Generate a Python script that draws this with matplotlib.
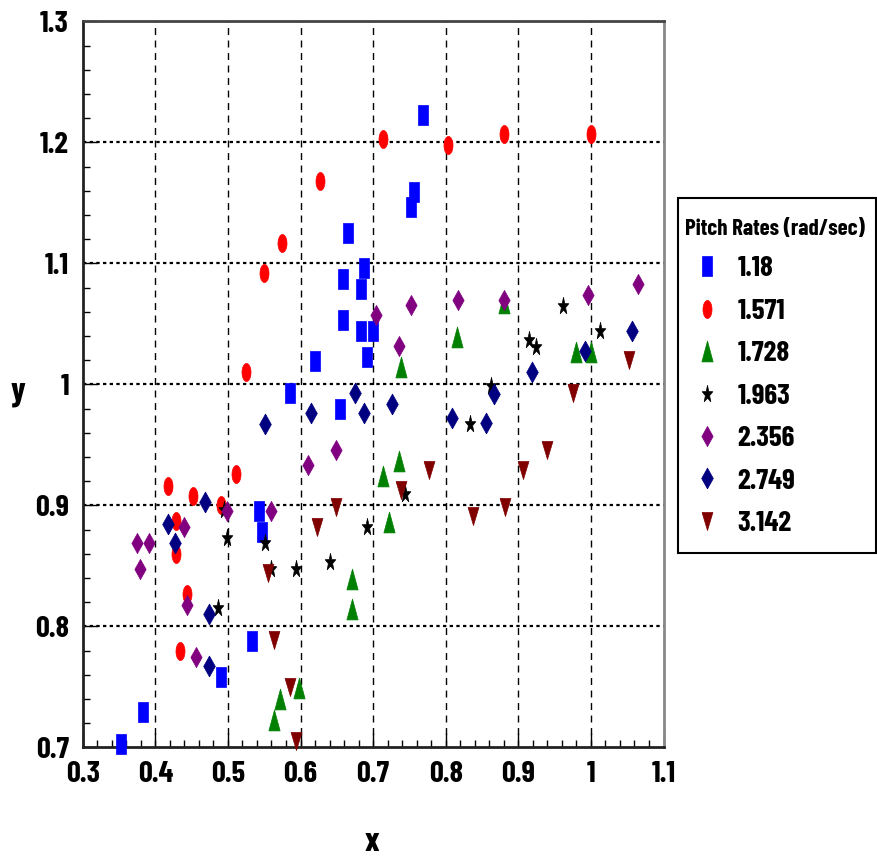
import matplotlib
matplotlib.use("Agg")
import matplotlib.pyplot as plt
from matplotlib.patches import Rectangle
from matplotlib.ticker import MultipleLocator
import numpy as np

plt.rcParams['font.family'] = ['Liberation Sans Narrow', 'Barlow Condensed', 'DejaVu Sans']

# ---- data ----
rates = ['1.18', '1.571', '1.728', '1.963', '2.356', '2.749', '3.142']

x_118 = [0.769, 0.756, 0.752, 0.666, 0.687, 0.658, 0.683, 0.658, 0.683, 0.700,
         0.692, 0.620, 0.585, 0.654, 0.543, 0.547, 0.533, 0.491, 0.383, 0.353]
y_118 = [1.223, 1.159, 1.147, 1.125, 1.096, 1.087, 1.079, 1.053, 1.044, 1.044,
         1.023, 1.019, 0.993, 0.980, 0.895, 0.878, 0.788, 0.758, 0.729, 0.703]

x_1571 = [0.713, 0.803, 0.880, 1.000, 0.627, 0.575, 0.550, 0.525, 0.511, 0.417,
          0.452, 0.490, 0.429, 0.429, 0.443, 0.434]
y_1571 = [1.203, 1.198, 1.207, 1.207, 1.168, 1.117, 1.092, 1.010, 0.926, 0.916,
          0.908, 0.900, 0.887, 0.860, 0.827, 0.780]

x_1728 = [0.880, 0.816, 0.979, 1.000, 0.739, 0.735, 0.713, 0.722, 0.671, 0.671,
          0.598, 0.572, 0.563]
y_1728 = [1.067, 1.039, 1.027, 1.027, 1.014, 0.937, 0.924, 0.886, 0.839, 0.814,
          0.749, 0.740, 0.723]

x_1963 = [0.962, 1.013, 0.915, 0.924, 0.863, 0.833, 0.744, 0.494, 0.691, 0.499,
          0.551, 0.559, 0.594, 0.641, 0.487]
y_1963 = [1.065, 1.044, 1.037, 1.031, 0.999, 0.967, 0.909, 0.896, 0.882, 0.873,
          0.869, 0.847, 0.847, 0.853, 0.815]

x_2356 = [0.704, 0.752, 0.817, 0.880, 0.996, 1.065, 0.735, 0.649, 0.611, 0.499,
          0.559, 0.440, 0.375, 0.392, 0.379, 0.443, 0.456]
y_2356 = [1.057, 1.066, 1.070, 1.070, 1.074, 1.083, 1.032, 0.946, 0.933, 0.895,
          0.895, 0.882, 0.869, 0.869, 0.847, 0.818, 0.775]

x_2749 = [1.057, 0.992, 0.919, 0.867, 0.726, 0.808, 0.855, 0.675, 0.615, 0.687,
          0.551, 0.469, 0.418, 0.427, 0.474, 0.474]
y_2749 = [1.044, 1.028, 1.010, 0.992, 0.984, 0.972, 0.968, 0.993, 0.976, 0.976,
          0.967, 0.903, 0.885, 0.869, 0.810, 0.767]

x_3142 = [1.052, 0.975, 0.940, 0.777, 0.906, 0.739, 0.838, 0.881, 0.649, 0.623,
          0.555, 0.564, 0.585, 0.594]
y_3142 = [1.020, 0.993, 0.946, 0.929, 0.929, 0.913, 0.891, 0.899, 0.899, 0.882,
          0.844, 0.789, 0.750, 0.705]

xs = [x_118, x_1571, x_1728, x_1963, x_2356, x_2749, x_3142]
ys = [y_118, y_1571, y_1728, y_1963, y_2356, y_2749, y_3142]

colors = ['#0000ff', '#ff0000', '#008000', '#000000', '#800080', '#000080', '#800000']

# vertically stretched marker shapes
t = np.linspace(0, 2 * np.pi, 40)
m_rect = [(-0.26, -0.5), (0.26, -0.5), (0.26, 0.5), (-0.26, 0.5), (-0.26, -0.5)]
m_ell = list(zip(0.25 * np.cos(t), 0.5 * np.sin(t)))
m_tri = [(-0.27, -0.5), (0.27, -0.5), (0.0, 0.5), (-0.27, -0.5)]
m_dia = [(0, -0.5), (0.28, 0), (0, 0.5), (-0.28, 0), (0, -0.5)]
m_tdn = [(-0.3, 0.5), (0.3, 0.5), (0.0, -0.5), (-0.3, 0.5)]
ang = np.pi / 2 + np.arange(10) * np.pi / 5
rad = np.where(np.arange(10) % 2 == 0, 1.0, 0.4)
m_star = list(zip(0.62 * rad * np.cos(ang), rad * np.sin(ang)))
m_star.append(m_star[0])
markers = [m_rect, m_ell, m_tri, m_star, m_dia, m_dia, m_tdn]
sizes = [15, 13, 15, 13, 14.5, 15, 13]

fig = plt.figure(figsize=(8.78, 8.59), dpi=100)
ax = fig.add_axes([0.0942, 0.130, 0.6615, 0.845])

handles = []
for xv, yv, c, m, s, lab in zip(xs, ys, colors, markers, sizes, rates):
    h, = ax.plot(xv, yv, linestyle='none', marker=m, markersize=s,
                 color=c, markeredgecolor=c, markeredgewidth=0.5,
                 clip_on=False, zorder=3, label=lab)
    handles.append(h)

ax.set_xlim(0.3, 1.1)
ax.set_ylim(0.7, 1.3)
ax.xaxis.set_minor_locator(MultipleLocator(0.02))
ax.yaxis.set_minor_locator(MultipleLocator(0.02))

xt = [0.3, 0.4, 0.5, 0.6, 0.7, 0.8, 0.9, 1.0, 1.1]
yt = [0.7, 0.8, 0.9, 1.0, 1.1, 1.2, 1.3]
ax.set_xticks(xt)
ax.set_xticklabels(['0.3', '0.4', '0.5', '0.6', '0.7', '0.8', '0.9', '1', '1.1'])
ax.set_yticks(yt)
ax.set_yticklabels(['0.7', '0.8', '0.9', '1', '1.1', '1.2', '1.3'])

for lab in ax.get_xticklabels() + ax.get_yticklabels():
    lab.set_fontsize(22)
    lab.set_fontweight('bold')

ax.tick_params(axis='both', which='major', direction='in', length=10, width=1)
ax.tick_params(axis='x', which='major', pad=10)
ax.tick_params(axis='y', which='major', pad=10)
ax.tick_params(axis='both', which='minor', direction='in', length=5, width=1)

# grids
for v in xt[1:-1]:
    ax.axvline(v, color='black', lw=1.0, linestyle=(0, (5, 4)), zorder=1)
for v in yt[1:-1]:
    ax.axhline(v, color='black', lw=1.6, linestyle=(0, (1.5, 1.5)), zorder=1)

for side in ['left', 'bottom']:
    ax.spines[side].set_linewidth(2)
    ax.spines[side].set_color('#222222')
ax.spines['top'].set_linewidth(2)
ax.spines['top'].set_color('#444444')
ax.spines['right'].set_linewidth(2)
ax.spines['right'].set_color('#888888')

fig.text(18 / 878, 1 - 392 / 859, 'y', fontsize=25, fontweight='bold',
         ha='center', va='center')
fig.text(372 / 878, 1 - 842 / 859, 'x', fontsize=24, fontweight='bold',
         ha='center', va='center')

# legend box
fig.patches.append(Rectangle((678 / 878, 1 - 553 / 859), 198 / 878, 355 / 859,
                             transform=fig.transFigure, fill=False,
                             edgecolor='black', lw=1.5))
leg = fig.legend(handles=handles, loc='upper left',
                 bbox_to_anchor=(679 / 878, 1 - 213 / 859),
                 bbox_transform=fig.transFigure, frameon=False,
                 title='Pitch Rates (rad/sec)',
                 title_fontproperties={'size': 16.5, 'weight': 'bold'},
                 prop={'size': 21, 'weight': 'bold'},
                 labelspacing=0.585, handletextpad=0.3, handlelength=1.5,
                 borderpad=0.2, borderaxespad=0.0, markerscale=1.0)
leg._legend_box.align = 'left'

fig.savefig('out.png', dpi=100)
